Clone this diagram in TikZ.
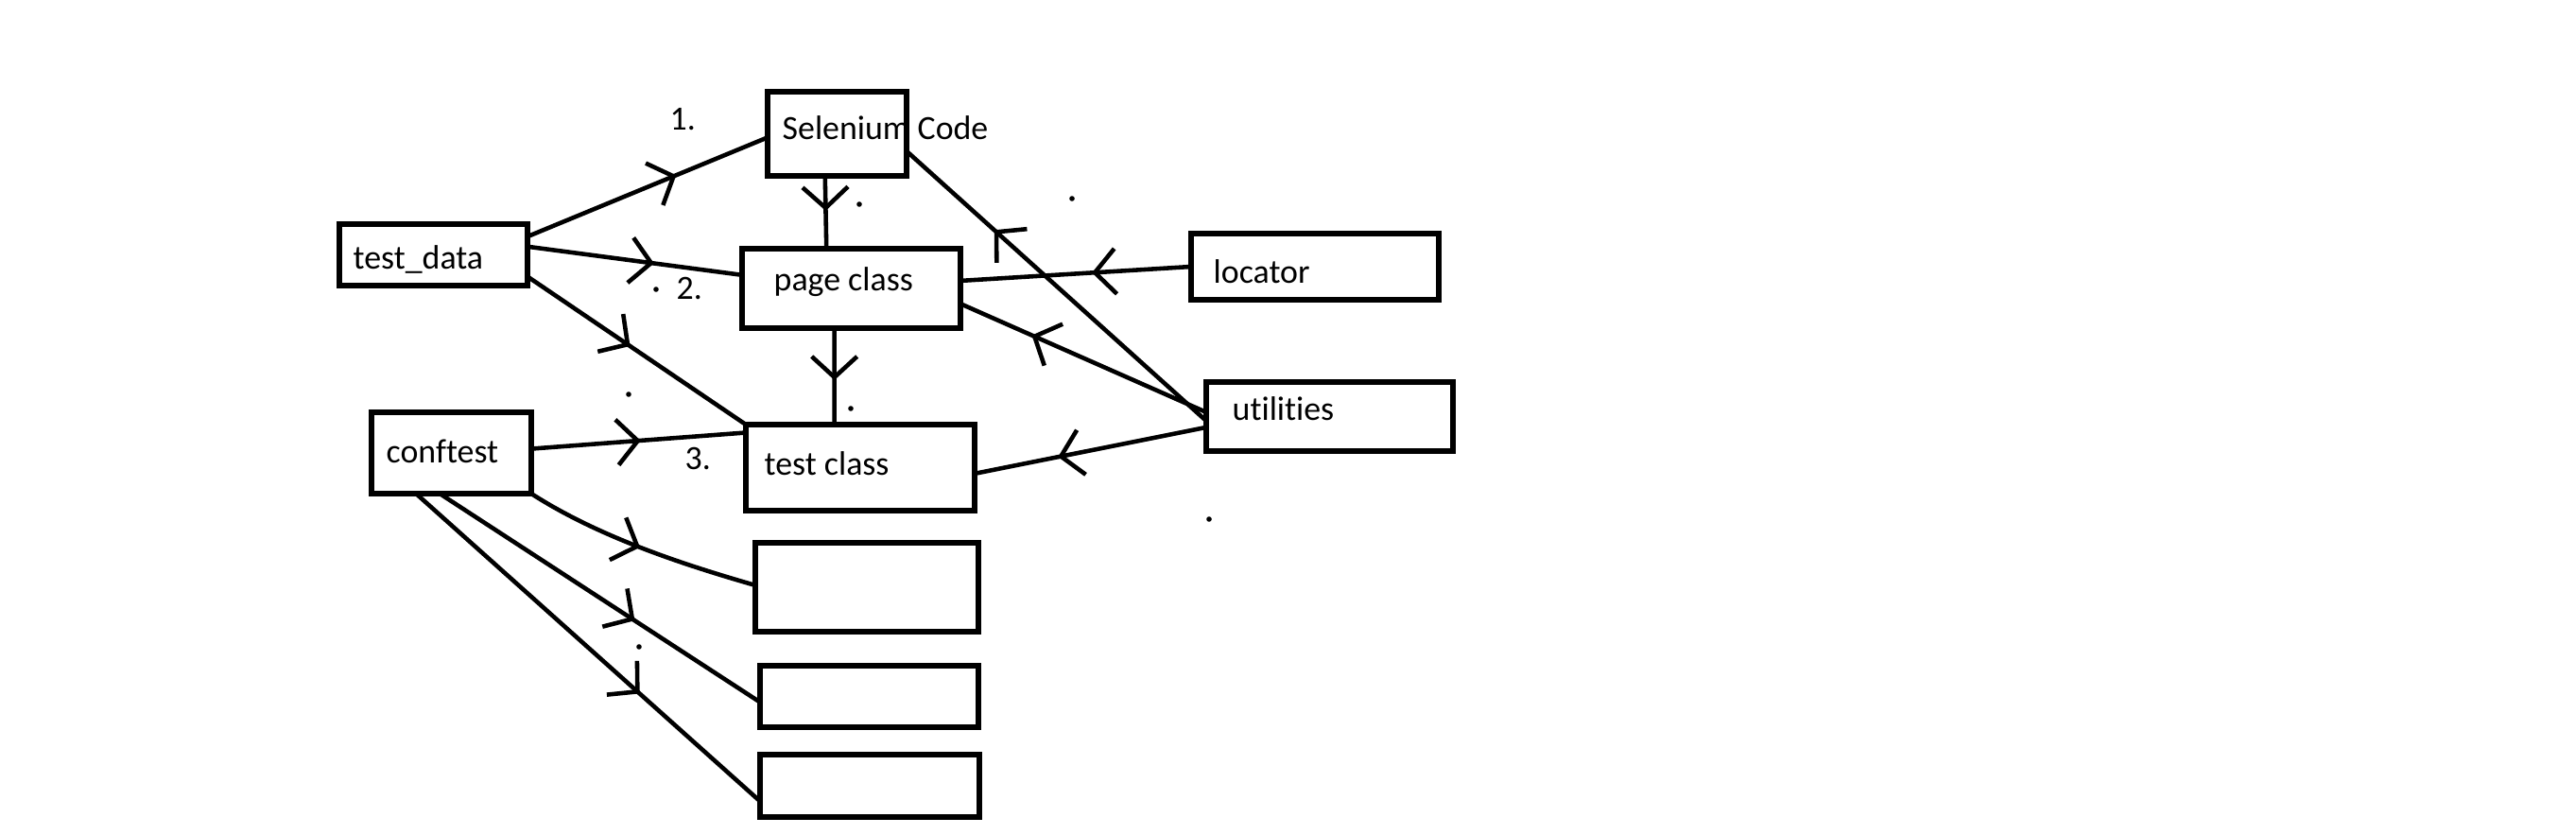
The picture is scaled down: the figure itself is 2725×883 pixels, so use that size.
\documentclass[tikz,border=0pt]{standalone}
\usepackage{fontspec}
\setmainfont{Carlito}[Ligatures=NoCommon]
\usetikzlibrary{arrows.meta,decorations.markings}

\begin{document}
\begin{tikzpicture}[x=0.1mm, y=-0.1mm,
    box/.style={draw, line width=1.7pt, inner sep=0pt, outer sep=0pt},
    txt/.style={anchor=base west, inner sep=0pt, font=\fontsize{10.2}{12}\selectfont},
    link/.style={line width=1.3pt},
    midarrow/.style={postaction={decorate, decoration={markings,
        mark=at position #1 with {\arrow{Straight Barb[length=2.2mm,width=4.8mm]}}}}}]
\useasboundingbox (0,0) rectangle (2725,883);

% Boxes
\node[box, minimum width=14.7mm, minimum height=8.9mm] (sel) at (885.5,141.5) {};
\node[box, minimum width=19.9mm, minimum height=6.5mm] (tdata) at (458.5,269.5) {};
\node[box, minimum width=23.1mm, minimum height=8.4mm] (page) at (900.5,305) {};
\node[box, minimum width=26.2mm, minimum height=7.0mm] (loc) at (1391,282) {};
\node[box, minimum width=26.1mm, minimum height=7.3mm] (util) at (1406.5,440.5) {};
\node[box, minimum width=16.9mm, minimum height=8.6mm] (conf) at (477.5,479) {};
\node[box, minimum width=24.2mm, minimum height=9.1mm] (tcls) at (910,494.5) {};
\node[box, minimum width=23.6mm, minimum height=9.4mm] (boxA) at (917,621) {};
\node[box, minimum width=23.1mm, minimum height=6.5mm] (boxB) at (919.5,736.5) {};
\node[box, minimum width=23.2mm, minimum height=6.6mm] (boxC) at (920,831) {};

% Texts
\node[txt] (seltxt) at (827,148) {Selenium Code};
\node[txt] (tdtxt) at (373,285) {test\_data};
\node[txt] (pgtxt) at (818,308) {page class};
\node[txt] (loctxt) at (1283,300) {locator};
\node[txt] (uttxt) at (1303,445) {utilities};
\node[txt] (cftxt) at (408,490) {conftest};
\node[txt] (tctxt) at (808,503) {test class};

% Numbers
\node[txt] (one) at (708,138) {1.};
\node[txt] (two) at (715,317) {2.};
\node[txt] (three) at (724,497) {3.};

% Stray dots
\foreach \p in {(1134,210),(909,216),(694,306),(665,417),(900,432),(1279,549),(676,684)}
  \fill \p circle[radius=0.28mm];

% test_data
\draw[link, midarrow=0.62] (tdata.11) -- (sel.183);
\draw[link, midarrow=0.59] (tdata.5) -- (page.173);
\draw[link, midarrow=0.47] (tdata.-13) -- (tcls.north west);

% Selenium Code, page class, test class
\draw[link, midarrow=0.48] (sel.-106) -- (page.122);
\draw[link, midarrow=0.54] (page.-113) -- (tcls.121);

% locator, utilities
\draw[link, midarrow=0.43] (loc.west) -- (page.4);
\draw[link, midarrow=0.71] (util.182) -- (sel.-14);
\draw[link, midarrow=0.71] (util.178) -- (page.-8);
\draw[link, midarrow=0.64] (util.185) -- (tcls.-3);

% conftest
\draw[link, midarrow=0.51] (conf.3) -- (tcls.163);
\draw[link, midarrow=0.5] (conf.south east) .. controls +(70,45) and +(-80,-23) .. (boxA.179);
\draw[link, midarrow=0.61] (conf.-106) -- (boxB.183);
\draw[link, midarrow=0.65] (conf.-131) -- (boxC.188);
\end{tikzpicture}
\end{document}
